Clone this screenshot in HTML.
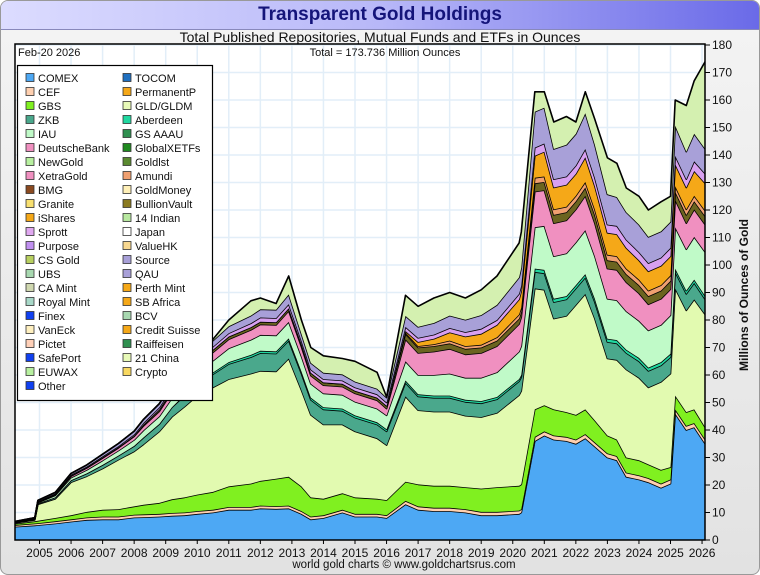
<!DOCTYPE html>
<html><head><meta charset="utf-8">
<style>
body{margin:0;width:760px;height:575px;overflow:hidden;background:#fff;font-family:"Liberation Sans",sans-serif;}
#frame{position:absolute;left:0;top:0;width:758px;height:573px;border:1px solid #999;border-radius:8px;background:linear-gradient(#f4f4f4,#e2e2e2);overflow:hidden;}
#titlebar{position:absolute;left:0;top:0;width:758px;height:28px;background:linear-gradient(90deg,#dcdcff,#b8b8f8 50%,#6a6ae8);border-bottom:1px solid #8888bb;}
#title{position:absolute;left:0;width:758px;top:3px;text-align:center;font-weight:bold;font-size:19px;color:#14147a;}
#sub{position:absolute;left:0;width:760px;top:29px;text-align:center;font-size:14px;color:#111;}
</style></head><body>
<div id="frame">
<div id="titlebar"><div id="title">Transparent Gold Holdings</div></div>
</div>
<div id="sub">Total Published Repositories, Mutual Funds and ETFs in Ounces</div>
<svg id="chart" width="760" height="575" style="position:absolute;left:0;top:0"></svg>
<script>
const times=[2004.2,2004.85,2004.95,2005.5,2006,2006.5,2007,2007.5,2008,2008.3,
2008.8,2009.2,2009.6,2010,2010.5,2011,2011.7,2012,2012.5,2012.9,
2013.3,2013.6,2014,2014.6,2015,2015.7,2016,2016.6,2017,2017.5,
2018,2018.5,2019,2019.5,2020.2,2020.27,2020.7,2021,2021.3,2021.7,
2022,2022.3,2022.6,2023,2023.3,2023.6,2024,2024.3,2024.7,2025,
2025.15,2025.5,2025.75,2026.1];
const totals=[6.5,8,14,15,22,24,29,33,37,40,
46.5,53,60,68,73,80,87,88,86,96,
80,70,67,66,65,61,52,89,85,88,
90,88,91,96,108,112,163,163,152,154,
152,163,153,139,137,128,125,120,123,125,
160,158,167,174];
const comex=[4.8,5.3,5.4,6,6.7,7.3,7.5,7.5,8.2,8.3,
8.5,8.8,9,9.5,10,11,11,11.5,11.3,11.5,
9.5,7.5,8,10,8.5,8.5,8,13,11,10.5,
10.5,10,9,9,9.5,10,36,38,36.5,36,
35,37,34,30,29,23,22,21,19,20.5,
46,40,41,35];
const cef=[0.6,0.7,0.7,0.8,0.8,0.9,1,1,1,1,1,1,1,1,1,1,1,1,1,1,1,1,1,1,1,1,1,1.2,1.2,1.2,1.2,1.2,1.2,1.2,1.2,1.2,1.5,1.5,1.5,1.5,1.5,1.5,1.5,1.5,1.5,1.5,1.5,1.5,1.5,1.5,1.5,1.5,1.5,1.5];
const gbs=[0.5,0.8,0.9,1.2,1.5,2,2.5,2.7,3,3.5,
4,5,5.5,6,6.5,7.5,8.5,9,10,10.5,
9,7,6,6,6,5.5,5.5,7,8,8,
8,8,8.5,9,9,9,10,9.5,9.5,9,
9,9,8,6.5,6,5.5,5.5,5,5,4.5,
5,5,5,4.5];
const gld=[0.3,0.5,6,7,12,13,15,18,20,22,
26,30,33,36,38,39,40,40,39,43,
35,30,27,25,24,22,20,31,27,27,
27,26,26,27,33,34,44,42,33,35,
40,42,37,28,29,32,30,28,32,34,
39,37,40,41];
const zkb=[0.2,0.2,0.3,0.5,0.7,1,1.3,1.5,2,2.5,
2.7,3.5,4,4.5,4.8,5.5,6,6.5,6.5,6.5,
6,5.5,5.5,5,5,5,5,5,5,5,
5,5,5,5,5,5,6,6,6,6,
6,6,6,6,6,6,6,6,6,6,
6,6,6,5.5];
const aberdeen=[0,0,0,0,0,0,0,0,0,0,
0,0,0.3,0.5,0.6,0.7,0.8,0.8,0.8,0.8,
0.8,0.8,0.8,0.8,0.8,0.8,0.8,0.8,0.8,0.8,
0.8,0.8,0.8,0.8,0.8,0.8,1.2,1.2,1.2,1.2,
1.2,1.2,1.2,1.2,1.2,1.2,1.2,1.2,1.2,1.2,
1.2,1.2,1.2,1.2];
const iau=[0,0.1,0.3,0.7,1,1.3,1.6,1.8,2.2,2.6,
2.8,3.3,3.6,4,4.3,5,5.5,5.8,5.8,6,
5.5,5,5,5,5,5,5,7,7,7.5,
8,8,8.5,9,10,10.5,15,16,15.5,15.5,
15.5,16,15.5,14.5,14.5,14,13.5,13.5,13.5,14,
15,15,15.5,16];
const pink=[0,0.1,0.1,0.3,0.5,0.7,0.9,1,1.3,1.6,
1.8,2.2,2.5,2.8,3,3.3,3.6,3.8,3.8,4,
3.5,3,3,3,3,3,2.5,8,8,8.5,
9,8.5,9,9.5,10,10.5,13,13,12,12,
12,12.5,12,11,11,10.5,10,9.5,9.5,9.5,
10,9.5,10,10];
const dark=[0.1,0.1,0.2,0.2,0.2,0.2,0.2,0.2,0.2,0.5,0.7,0.8,1,1,1,1,1,1,1,1,1,1,1,1,1,1,1,2,2,2,2,2,2,2,2,2,3,3,3,3,3,3,3,3,3,3,3,3,3,3,3,3,3,3];
const amundi=[0,0,0,0,0,0,0,0,0,0,0,0,0,0,0,0,0,0,0,0,0,0,0,0,0,0,0,0.5,0.5,0.7,1,1,1,1.2,1.5,1.5,2,2,2,2,2,2,2,2,2,2,2,2,2,2,2,2,2,2];
const ishares=[0,0,0,0,0,0,0,0,0,0,0,0,0,0,0,0,0,0,0,0,0,0,0,0,0,0,0,0.5,1.5,2,3,3.5,4,4.5,5.5,6,8,9,8,8,8,9,8.5,8,8,7.5,7,7,7,7,8,8,9,10];
const purple=[0.1,0.1,0.2,0.2,0.3,0.3,0.4,0.4,0.5,0.6,0.7,0.8,0.9,1,1.1,1.2,1.4,1.5,1.5,1.5,1.2,1.2,1.2,1.2,1.2,1.2,1.2,1.5,1.5,1.5,1.6,1.6,1.8,1.8,2,2,3,3,3,3,3,3,3,3,3,3,3,3,3,3,3,3,3.5,3.5];
const lavender=[0.1,0.2,0.3,0.4,0.5,0.6,0.8,1,1.2,1.3,1.4,1.5,1.7,2,2.2,2.5,2.8,3,3,3.5,2.5,2.4,2.3,2.2,2.1,2,1.8,4,4,4.2,4.5,4.5,5,5.5,6,6.5,13,13,11,11.5,11.5,13,12,11,10.5,10,10,9.5,9.5,9.5,11,10,10,9];
const yTicks=[0,10,20,30,40,50,60,70,80,90,100,110,120,130,140,150,160,170,180];
const xTicks=[2005,2006,2007,2008,2009,2010,2011,2012,2013,2014,2015,2016,2017,2018,2019,2020,2021,2022,2023,2024,2025,2026];
const legendNames=["COMEX","CEF","GBS","ZKB","IAU","DeutscheBank","NewGold","XetraGold","BMG","Granite","iShares","Sprott","Purpose","CS Gold","UBS","CA Mint","Royal Mint","Finex","VanEck","Pictet","SafePort","EUWAX","Other",
"TOCOM","PermanentP","GLD/GLDM","Aberdeen","GS AAAU","GlobalXETFs","Goldlst","Amundi","GoldMoney","BullionVault","14 Indian","Japan","ValueHK","Source","QAU","Perth Mint","SB Africa","BCV","Credit Suisse","Raiffeisen","21 China","Crypto"];
const legendColors=["#4da8f4","#ffd0b0","#80f020","#4aa88c","#c0fac8","#f090c0","#b8f0a0","#f090c0","#8b4a20","#f8e070","#f5a818","#e0a8f0","#c090f0","#b8d060","#a8d8b0","#d0d8b0","#a8d8c8","#1040f0","#fff0c0","#ffd0b8","#1040f0","#b8f0a0","#1040f0",
"#2070c0","#f5a818","#e8fab8","#20d8a0","#309050","#208a20","#5a8a30","#f0a070","#fff0b8","#8a7a20","#b8e8a0","#ffffff","#f8d890","#a8a0d8","#a8a0d8","#f5a818","#f5a818","#a8d8b0","#f5a818","#309050","#e8fab8","#f8d860"];
const NS="http://www.w3.org/2000/svg";
const svg=document.getElementById('chart');
const X0=15,X1=705,Y0=44,Y1=540;
function xs(t){return 39.5+(t-2005)*31.55;}
function ys(v){return 540-v*2.75;}
function mk(tag,attrs,parent){const e=document.createElementNS(NS,tag);for(const k in attrs)e.setAttribute(k,attrs[k]);(parent||svg).appendChild(e);return e;}
// plot background
const bg=mk('rect',{x:X0,y:Y0,width:X1-X0,height:Y1-Y0,fill:'#fff'});


const defs=mk('defs',{});
const cp=mk('clipPath',{id:'pc'},defs);mk('rect',{x:X0,y:Y0,width:X1-X0,height:Y1-Y0},cp);
const grid=mk('g',{stroke:'#e2eef8','stroke-width':1.5});


yTicks.forEach(v=>{mk('line',{x1:X0,x2:X1,y1:ys(v),y2:ys(v)},grid);});
xTicks.forEach(t=>{mk('line',{x1:xs(t),x2:xs(t),y1:Y0,y2:Y1},grid);});
// layers
const layers=[["comex",comex,"#4da8f4"],["cef",cef,"#ffd0b0"],["gbs",gbs,"#80f020"],["gld",gld,"#e2fab0"],["zkb",zkb,"#4aa88c"],["aberdeen",aberdeen,"#20d8a0"],["iau",iau,"#c0fac8"],["pink",pink,"#f090c0"],["dark",dark,"#6b6420"],["amundi",amundi,"#f0a070"],["ishares",ishares,"#f5a818"],["purple",purple,"#d8a0f0"],["lavender",lavender,"#a8a0d8"]];
const gArea=mk('g',{'clip-path':'url(#pc)'});


let base=times.map(()=>0);
function band(name,lo,hi,color){
  let d='M'+times.map((t,i)=>xs(t).toFixed(1)+','+ys(hi[i]).toFixed(1)).join('L');
  for(let i=times.length-1;i>=0;i--)d+='L'+xs(times[i]).toFixed(1)+','+ys(lo[i]).toFixed(1);
  d+='Z';
  const p=mk('path',{d:d,fill:color,stroke:'none'},gArea);
  
  
  const l=mk('path',{d:'M'+times.map((t,i)=>xs(t).toFixed(1)+','+ys(hi[i]).toFixed(1)).join('L'),fill:'none',stroke:'#000','stroke-width':1.6,'stroke-linejoin':'round'},gArea);
  
  
}
layers.forEach(([n,arr,c])=>{const hi=base.map((b,i)=>b+arr[i]);band(n,base,hi,c);base=hi;});
const topHi=base.map((b,i)=>Math.max(b,totals[i]));
band('other-etfs',base,topHi,'#d4f0b0');
// plot border
const bd=mk('rect',{x:X0,y:Y0,width:X1-X0,height:Y1-Y0,fill:'none',stroke:'#000','stroke-width':1.5});


// y axis
const ya=mk('g',{'font-size':12,fill:'#111'});


yTicks.forEach(v=>{mk('line',{x1:X1,x2:X1+5,y1:ys(v),y2:ys(v),stroke:'#000'},ya);const t=mk('text',{x:X1+7,y:ys(v)+4},ya);t.textContent=v;});
const yt=mk('text',{x:748,y:295,'font-size':12,'font-weight':'bold','text-anchor':'middle',transform:'rotate(-90 748 295)',fill:'#111'});
yt.textContent='Millions of Ounces of Gold';


// x axis
const xa=mk('g',{'font-size':12,fill:'#111','text-anchor':'middle'});


xTicks.forEach(t=>{mk('line',{x1:xs(t),x2:xs(t),y1:Y1,y2:Y1+4,stroke:'#000'},xa);const e=mk('text',{x:xs(t),y:557},xa);e.textContent=t;});
const ft=mk('text',{x:404,y:568,'font-size':11.5,'text-anchor':'middle',fill:'#111'});
ft.textContent='world gold charts \u00a9 www.goldchartsrus.com';


const dt=mk('text',{x:18,y:56,'font-size':11,fill:'#111'});
dt.textContent='Feb-20  2026';


const tt=mk('text',{x:385,y:56,'font-size':11,'text-anchor':'middle',fill:'#111'});
tt.textContent='Total = 173.736 Million Ounces';


// legend
const lg=mk('g',{'font-size':11,fill:'#111'});


mk('rect',{x:17.5,y:65.5,width:195,height:335,fill:'#fff',stroke:'#000','stroke-width':1.2},lg);
legendNames.forEach((n,i)=>{
  const col=i<23?0:1,row=i<23?i:i-23;
  const x=col?123:26,y=78+row*14;
  const e=mk('g',{},lg);
  
  
  mk('rect',{x:x,y:y-4.5,width:8,height:8,fill:legendColors[i],stroke:'#333','stroke-width':0.8},e);
  const t=mk('text',{x:x+12,y:y+4},e);t.textContent=n;
});
</script>
</body></html>
